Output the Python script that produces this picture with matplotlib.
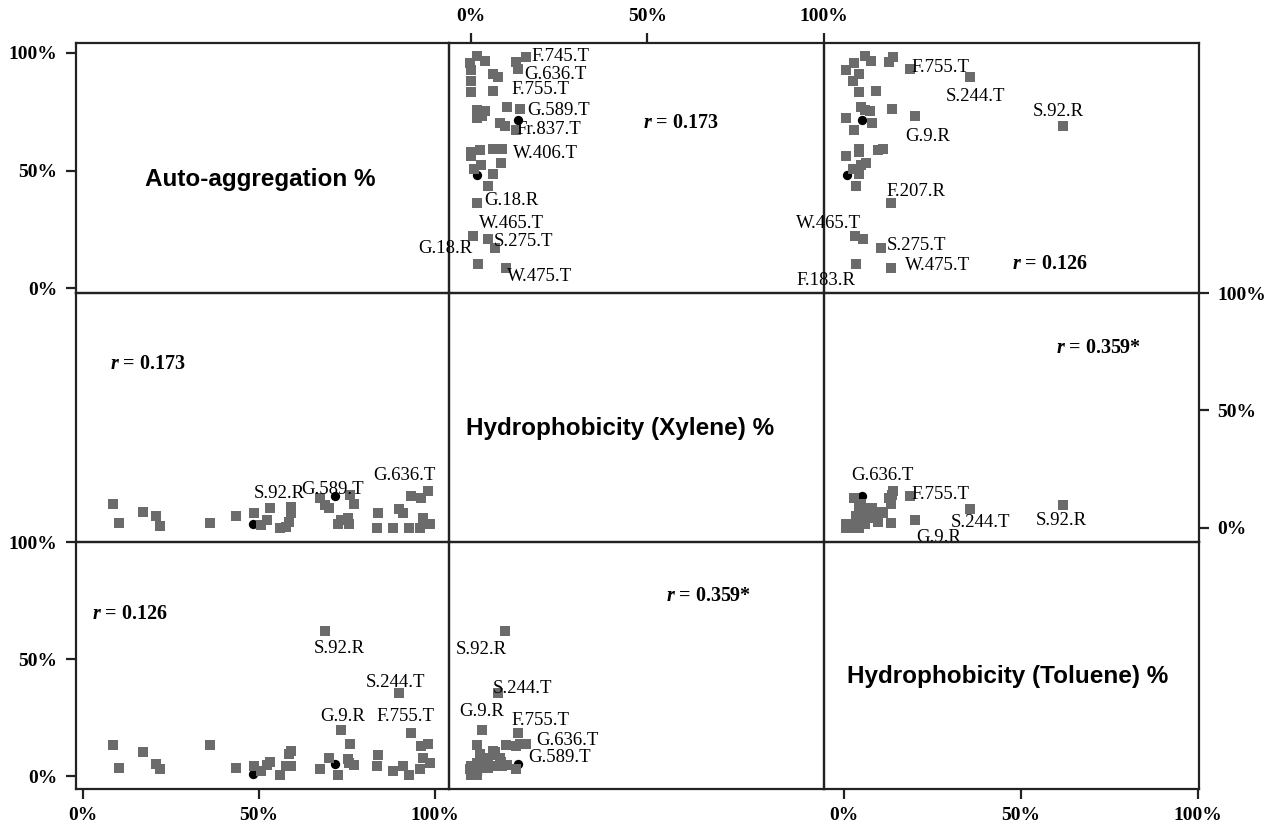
import matplotlib
matplotlib.use("Agg")
import matplotlib.pyplot as plt

plt.rcParams["mathtext.fontset"] = "custom"
plt.rcParams["mathtext.bfit"] = "Liberation Serif:bold:italic"
plt.rcParams["mathtext.it"] = "Liberation Serif:bold:italic"

# strain values (%): auto-aggregation, xylene, toluene
auto = [8.6, 10.4, 17.1, 20.9, 22.0, 36.0, 43.6, 48.6, 50.5, 52.2, 53.0, 56.0, 57.8,
        58.5, 59.0, 59.0, 67.3, 68.8, 70.0, 72.3, 73.2, 75.5, 75.3, 75.9, 77.0, 83.5,
        83.7, 88.0, 89.6, 90.8, 92.5, 93.2, 95.7, 96.0, 96.4, 98.0, 98.6]
xylene = [10.0, 2.0, 6.8, 4.9, 0.8, 1.8, 5.0, 6.4, 1.0, 3.1, 8.5, 0.0, 0.2,
          2.6, 6.4, 8.8, 12.8, 9.8, 8.2, 1.7, 3.3, 1.7, 4.0, 13.9, 10.2, 0.0,
          6.4, 0.0, 7.8, 6.4, 0.0, 13.4, -0.2, 12.8, 4.0, 15.8, 1.7]
toluene = [13.3, 3.5, 10.4, 5.5, 3.1, 13.3, 3.5, 4.4, 2.5, 5.0, 6.3, 0.7, 4.4,
           9.6, 11.0, 4.4, 3.0, 62.0, 8.0, 0.5, 20.0, 5.9, 7.5, 13.7, 5.0, 4.4,
           9.2, 2.5, 35.5, 4.4, 0.7, 18.7, 3.0, 12.8, 7.8, 13.9, 5.9]

# the two strains drawn with black dots
auto_b = [71.5, 48.3]
xylene_b = [13.4, 1.7]
toluene_b = [5.2, 1.0]

names = ["Auto-aggregation %", "Hydrophobicity (Xylene) %", "Hydrophobicity (Toluene) %"]
tick_vals = [0, 50, 100]
tick_labels = ["0%", "50%", "100%"]

# correlation texts: (value, row, col, x, y)
r_texts = [
    ("0.173", 0, 1, 48.7, 70.3),
    ("0.126", 0, 2, 47.5, 10.3),
    ("0.173", 1, 0, 7.8, 69.6),
    ("0.359*", 1, 2, 59.9, 76.7),
    ("0.126", 2, 0, 2.5, 69.2),
    ("0.359*", 2, 1, 55.3, 76.9),
]

# point labels per panel: (row, col, text, x, y)
point_labels = [
    (0, 1, "F.745.T", 17.1, 98.4), (0, 1, "G.636.T", 15.1, 90.8),
    (0, 1, "F.755.T", 11.7, 84.4), (0, 1, "G.589.T", 15.9, 75.4),
    (0, 1, "Fr.837.T", 13.1, 67.4), (0, 1, "W.406.T", 12.0, 57.1),
    (0, 1, "G.18.R", 4.0, 37.1), (0, 1, "W.465.T", 2.3, 27.3),
    (0, 1, "S.275.T", 6.6, 19.7), (0, 1, "G.18.R", -14.9, 16.7),
    (0, 1, "W.475.T", 10.3, 4.8),
    (0, 2, "F.755.T", 19.2, 93.7), (0, 2, "S.244.T", 28.8, 81.4),
    (0, 2, "S.92.R", 53.4, 75.0), (0, 2, "G.9.R", 17.3, 64.4),
    (0, 2, "F.207.R", 12.1, 41.0), (0, 2, "W.465.T", -13.4, 27.3),
    (0, 2, "S.275.T", 12.1, 18.0), (0, 2, "W.475.T", 17.3, 9.5),
    (0, 2, "F.183.R", -13.4, 3.1),
    (1, 0, "S.92.R", 48.5, 14.7), (1, 0, "G.589.T", 62.0, 16.3),
    (1, 0, "G.636.T", 82.3, 22.3),
    (1, 2, "G.636.T", 2.2, 22.3), (1, 2, "F.755.T", 19.2, 14.2),
    (1, 2, "S.244.T", 30.2, 2.3), (1, 2, "S.92.R", 54.3, 3.1),
    (1, 2, "G.9.R", 20.6, -4.2),
    (2, 0, "S.92.R", 65.5, 54.7), (2, 0, "S.244.T", 80.4, 40.3),
    (2, 0, "G.9.R", 67.4, 25.8), (2, 0, "F.755.T", 83.4, 25.4),
    (2, 1, "S.92.R", -4.2, 54.3), (2, 1, "S.244.T", 6.3, 37.7),
    (2, 1, "G.9.R", -3.3, 27.9), (2, 1, "F.755.T", 11.7, 24.1),
    (2, 1, "G.636.T", 18.5, 15.2), (2, 1, "G.589.T", 16.2, 8.0),
]

W, H = 1273, 827
col_edges = [75.7, 449.3, 824.3, 1199.0]
row_edges = [43.3, 293.0, 541.7, 789.3]
lims = [(-2.0, 104.0), (-6.0, 100.0), (-5.5, 100.3)]
title_pos = [(0.493, 0.453), (0.455, 0.457), (0.488, 0.454)]

data = [auto, xylene, toluene]
data_b = [auto_b, xylene_b, toluene_b]

serif = "Liberation Serif"
sans = "Liberation Sans"
grey = "#6b6b6b"
frame = "#222222"

fig = plt.figure(figsize=(W / 100, H / 100), dpi=100)
fig.patch.set_facecolor("white")

for i in range(3):
    for j in range(3):
        l = col_edges[j] / W
        w = (col_edges[j + 1] - col_edges[j]) / W
        b = 1 - row_edges[i + 1] / H
        h = (row_edges[i + 1] - row_edges[i]) / H
        ax = fig.add_axes([l, b, w, h])
        ax.patch.set_alpha(0)
        ax.set_xlim(*lims[j])
        ax.set_ylim(*lims[i])
        for s in ax.spines.values():
            s.set_linewidth(1.6)
            s.set_color(frame)

        ax.set_xticks(tick_vals)
        ax.set_yticks(tick_vals)
        ax.tick_params(direction="out", length=7, width=1.6, color=frame,
                       labelsize=14, pad=6)
        ax.tick_params(axis="x", bottom=False, top=False, labelbottom=False, labeltop=False)
        ax.tick_params(axis="y", left=False, right=False, labelleft=False, labelright=False)
        if i == 2 and j in (0, 2):
            ax.tick_params(axis="x", bottom=True, labelbottom=True)
        if i == 0 and j == 1:
            ax.tick_params(axis="x", top=True, labeltop=True)
        if j == 0 and i in (0, 2):
            ax.tick_params(axis="y", left=True, labelleft=True)
        if j == 2 and i == 1:
            ax.tick_params(axis="y", right=True, labelright=True)
        ax.set_xticklabels(tick_labels, fontfamily=serif, fontweight="bold")
        ax.set_yticklabels(tick_labels, fontfamily=serif, fontweight="bold")

        if i == j:
            tx, ty = title_pos[i]
            ax.text(tx, ty, names[i], transform=ax.transAxes, ha="center", va="center",
                    fontsize=17.5, fontweight="bold", fontfamily=sans)
            continue

        ax.scatter(data_b[j], data_b[i], s=45, color="black", marker="o", zorder=2,
                   linewidths=0)
        ax.scatter(data[j], data[i], s=62, color=grey, marker="s", zorder=3,
                   linewidths=0)

        for (val, ri, cj, x, y) in r_texts:
            if ri == i and cj == j:
                ax.text(x, y, r"$\mathit{r}$" + " = " + val, ha="left", va="center",
                        fontsize=14.5, fontweight="bold", fontfamily=serif, zorder=5)

        for (ri, cj, txt, x, y) in point_labels:
            if ri == i and cj == j:
                clip = (txt == "G.9.R" and i == 1)
                ax.text(x, y, txt, ha="left", va="center", fontsize=13.5,
                        fontfamily=serif, zorder=4, clip_on=clip)

fig.savefig("out.png", dpi=100)
